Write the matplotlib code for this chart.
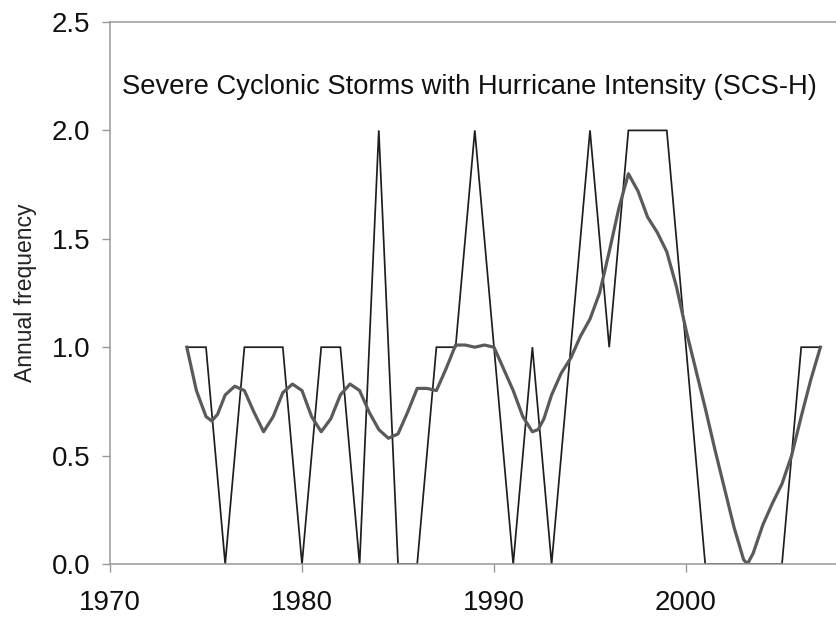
import matplotlib.pyplot as plt

plt.rcParams['font.family'] = ['Liberation Sans', 'DejaVu Sans']

# annual counts of SCS-H
YEARS = list(range(1974, 2008))
COUNTS = [1, 1, 0, 1, 1, 1, 0, 1, 1, 0, 2, 0, 0, 1, 1, 2, 1, 0, 1, 0,
          1, 2, 1, 2, 2, 2, 1, 0, 0, 0, 0, 0, 1, 1]

# smoothed curve
SMOOTH_X = [1974.0, 1974.5, 1975.0, 1975.3, 1975.6, 1976.0, 1976.5, 1977.0, 1977.5,
            1978.0, 1978.5, 1979.0, 1979.5, 1980.0, 1980.5, 1981.0, 1981.5, 1982.0,
            1982.5, 1983.0, 1983.5, 1984.0, 1984.5, 1985.0, 1985.5, 1986.0, 1986.5,
            1987.0, 1987.5, 1988.0, 1988.5, 1989.0, 1989.5, 1990.0, 1990.5, 1991.0,
            1991.5, 1992.0, 1992.3, 1992.6, 1993.0, 1993.5, 1994.0, 1994.5, 1995.0,
            1995.5, 1996.0, 1996.5, 1997.0, 1997.5, 1998.0, 1998.5, 1999.0, 1999.5,
            2000.0, 2000.5, 2001.0, 2001.5, 2002.0, 2002.5, 2003.0, 2003.2, 2003.5,
            2004.0, 2004.5, 2005.0, 2005.5, 2006.0, 2006.5, 2007.0]
SMOOTH_Y = [1.00, 0.80, 0.68, 0.66, 0.69, 0.78, 0.82, 0.80, 0.70,
            0.61, 0.68, 0.79, 0.83, 0.80, 0.68, 0.61, 0.67, 0.78,
            0.83, 0.80, 0.70, 0.62, 0.58, 0.60, 0.70, 0.81, 0.81,
            0.80, 0.90, 1.01, 1.01, 1.00, 1.01, 1.00, 0.90, 0.80,
            0.68, 0.61, 0.62, 0.67, 0.78, 0.88, 0.95, 1.05, 1.13,
            1.25, 1.44, 1.64, 1.80, 1.72, 1.60, 1.53, 1.44, 1.28,
            1.08, 0.90, 0.72, 0.53, 0.35, 0.17, 0.02, 0.00, 0.05,
            0.18, 0.28, 0.37, 0.50, 0.68, 0.85, 1.00]

XTICKS = [1970, 1980, 1990, 2000]
YTICKS = [0.0, 0.5, 1.0, 1.5, 2.0, 2.5]

W, H = 836, 621
fig = plt.figure(figsize=(W / 100, H / 100), dpi=100)
# axes runs past the right edge of the figure (the original is cropped)
ax = fig.add_axes([110 / W, 57 / H, 768 / W, 542 / H])

ax.plot(YEARS, COUNTS, color='#1e1e1e', lw=1.25, solid_joinstyle='miter')
ax.plot(SMOOTH_X, SMOOTH_Y, color='#5a5a5a', lw=2.3)

ax.set_xlim(1970, 2010)
ax.set_ylim(0, 2.5)
ax.set_xticks(XTICKS)
ax.set_yticks(YTICKS)
ax.set_yticklabels([f"{v:.1f}" for v in YTICKS])

for side in ['left', 'bottom', 'top']:
    ax.spines[side].set_color('#999999')
    ax.spines[side].set_linewidth(1.1)
ax.spines['right'].set_visible(False)
ax.tick_params(axis='both', colors='#999999', length=6, width=1.0,
               labelcolor='#111111', labelsize=20)
ax.tick_params(axis='y', pad=8)
ax.tick_params(axis='x', pad=13)

ax.set_ylabel("Annual frequency", fontsize=16.5, color='#222222', labelpad=11)

fig.text(122 / W, 1 - 94 / H,
         "Severe Cyclonic Storms with Hurricane Intensity (SCS-H)",
         fontsize=19.7, color='#111111', va='baseline', ha='left')

fig.savefig("out.png", dpi=100, facecolor='white')
